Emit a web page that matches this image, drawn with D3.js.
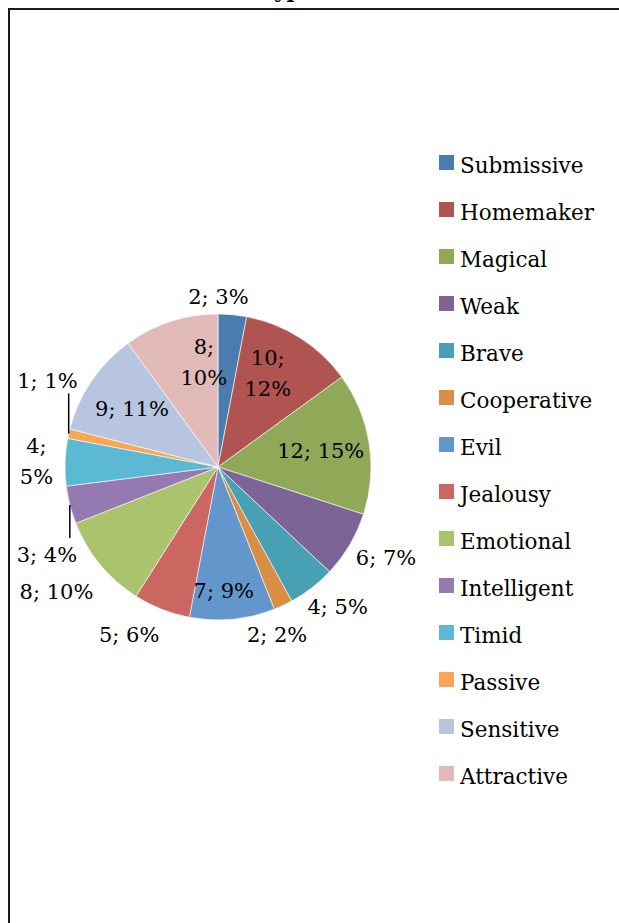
<!DOCTYPE html>
<html>
<head>
<meta charset="utf-8">
<script src="https://cdn.jsdelivr.net/npm/d3@7"></script>
<style>
  body { margin: 0; background: #fff; }
  svg text { font-family: "DejaVu Serif", serif; fill: #000; }
</style>
</head>
<body>
<div id="chart"></div>
<script>
const categories = ['Submissive', 'Homemaker', 'Magical', 'Weak', 'Brave', 'Cooperative', 'Evil',
    'Jealousy', 'Emotional', 'Intelligent', 'Timid', 'Passive', 'Sensitive', 'Attractive'];
const counts = [2, 10, 12, 6, 4, 2, 7, 5, 8, 3, 4, 1, 9, 8];
const percents = [3, 12, 15, 7, 5, 2, 9, 6, 10, 4, 5, 1, 11, 10];
const colors = ['#4a7caf', '#af5450', '#8fa958', '#7d6497', '#47a0b3', '#d98e46', '#6396ca',
    '#cc6660', '#aac36d', '#957ab1', '#5bb9d3', '#f9a656', '#b8c5e0', '#e0b9b8'];

// label layout (Excel "best fit" look)
const insideLabels = ['Homemaker', 'Magical', 'Evil', 'Sensitive', 'Attractive'];
const wrapLabels = ['Homemaker', 'Timid', 'Attractive'];
const leaderLabels = ['Intelligent', 'Passive'];
const nudge = {Submissive: [-18, 6], Cooperative: [-24, 7], Jealousy: [-17, 3], Emotional: [-6, 12],
    Intelligent: [18, 43], Passive: [20, -48], Evil: [-4, 20], Attractive: [18, -6], Homemaker: [-6, -6]};

const width = 619, height = 923;
const cx = 218, cy = 467, radius = 153;

const svg = d3.select('#chart').append('svg')
    .attr('width', width)
    .attr('height', height);

// chart frame, title sits above the visible area
svg.append('rect')
    .attr('x', 9).attr('y', 9)
    .attr('width', width + 20).attr('height', height + 20)
    .attr('fill', 'none')
    .attr('stroke', '#1a1a1a')
    .attr('stroke-width', 2);
svg.append('text')
    .attr('x', 188).attr('y', -2)
    .attr('font-size', 21)
    .attr('font-weight', 'bold')
    .text('Stereotypes');

const data = categories.map((c, i) => ({name: c, count: counts[i], pct: percents[i], color: colors[i]}));

const pie = d3.pie().sort(null).value(d => d.pct);
const arcs = pie(data);
const arc = d3.arc().innerRadius(0).outerRadius(radius);
const innerArc = d3.arc().innerRadius(radius * 0.68).outerRadius(radius * 0.68);
const edgeArc = d3.arc().innerRadius(radius).outerRadius(radius);
const outerArc = d3.arc().innerRadius(radius + 12).outerRadius(radius + 12);

const g = svg.append('g').attr('transform', `translate(${cx},${cy})`);

g.selectAll('path.slice')
    .data(arcs)
    .join('path')
    .attr('class', 'slice')
    .attr('d', arc)
    .attr('fill', d => d.data.color)
    .attr('stroke', '#fff')
    .attr('stroke-width', 0.6);

const fs = 21, lineH = 31;

arcs.forEach(a => {
    const d = a.data;
    const lines = wrapLabels.includes(d.name)
        ? [d.count + ';', d.pct + '%']
        : [d.count + '; ' + d.pct + '%'];
    const mid = (a.startAngle + a.endAngle) / 2;
    let x, y;
    const t = g.append('text')
        .attr('font-size', fs)
        .attr('text-anchor', 'middle');
    lines.forEach((l, i) => t.append('tspan').attr('x', 0).attr('dy', i === 0 ? 0 : lineH).text(l));
    const bb = t.node().getBBox();
    const w = bb.width, h = lines.length * lineH - 7;
    if (insideLabels.includes(d.name)) {
        [x, y] = innerArc.centroid(a);
    } else {
        const [px, py] = outerArc.centroid(a);
        x = px + (w / 2) * Math.sin(mid);
        y = py - (h / 2) * Math.cos(mid);
    }
    const n = nudge[d.name] || [0, 0];
    x += n[0]; y += n[1];
    // vertical centring of the text block
    const top = y - (lines.length - 1) * lineH / 2 + fs * 0.36;
    t.attr('transform', `translate(${x},${top})`);

    if (leaderLabels.includes(d.name)) {
        const [ex, ey] = edgeArc.centroid(a);
        const ly = n[1] > 0 ? y - 16 : y + 13;
        g.append('line')
            .attr('x1', ex).attr('y1', ey)
            .attr('x2', ex).attr('y2', ly)
            .attr('stroke', '#000')
            .attr('stroke-width', 1.5);
    }
});

// legend
const ly = d3.scalePoint().domain(categories).range([155, 766]);
const legend = svg.append('g')
    .selectAll('g')
    .data(data)
    .join('g')
    .attr('transform', d => `translate(439,${ly(d.name)})`);
legend.append('rect')
    .attr('width', 15).attr('height', 15)
    .attr('fill', d => d.color);
legend.append('text')
    .attr('x', 21).attr('y', 18)
    .attr('font-size', 21.5)
    .text(d => d.name);
</script>
</body>
</html>
